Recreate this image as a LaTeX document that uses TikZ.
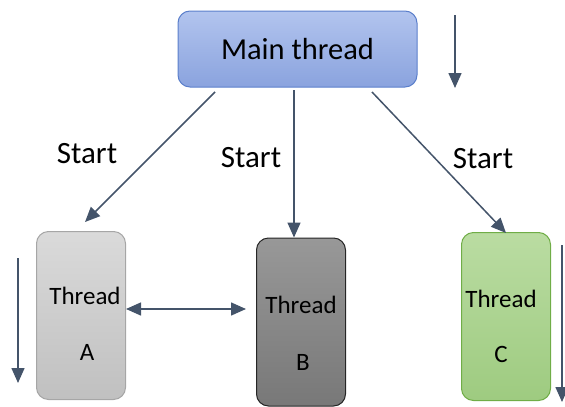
\documentclass[tikz,border=0pt]{standalone}
\usepackage{fontspec}
\setmainfont{Carlito}
\usetikzlibrary{arrows.meta}

\definecolor{arrowcol}{HTML}{44546A}

\tikzset{
  arr/.style={draw=arrowcol, line width=1.5pt, -{Triangle[width=13pt,length=15pt]}},
  dblarr/.style={draw=arrowcol, line width=1.5pt, {Triangle[width=13pt,length=15pt]}-{Triangle[width=13pt,length=15pt]}},
  threadbox/.style={rounded corners=12pt, minimum width=89pt, minimum height=168pt, line width=1pt, inner sep=0pt},
  startlbl/.style={font=\fontsize{31}{35}\selectfont},
  threadlbl/.style={font=\fontsize{25}{29}\selectfont}
}

\begin{document}
\begin{tikzpicture}[x=1pt,y=-1pt]
    \useasboundingbox (0,0) rectangle (565,407);

    % main thread
    \node[rounded corners=12pt, minimum width=239pt, minimum height=76pt, line width=1pt,
          draw={rgb,255:red,91;green,127;blue,203}, top color={rgb,255:red,178;green,196;blue,238},
          bottom color={rgb,255:red,138;green,163;blue,222}, font=\fontsize{30.5}{34}\selectfont]
          (main) at (297.5,49) {Main thread};

    % threads
    \node[threadbox, draw={rgb,255:red,166;green,166;blue,166}, top color={rgb,255:red,218;green,218;blue,218},
          bottom color={rgb,255:red,192;green,192;blue,192}] (thA) at (81,315.5) {};
    \node[threadbox, draw={rgb,255:red,38;green,38;blue,38}, top color={rgb,255:red,152;green,152;blue,152},
          bottom color={rgb,255:red,120;green,120;blue,120}] (thB) at (301,322) {};
    \node[threadbox, draw={rgb,255:red,112;green,173;blue,71}, top color={rgb,255:red,186;green,220;blue,162},
          bottom color={rgb,255:red,158;green,203;blue,128}] (thC) at (506,316.5) {};

    \node[threadlbl] (thAa) at (85,296) {Thread};
    \node[threadlbl] (thAb) at (87,352) {A};
    \node[threadlbl] (thBa) at (301,305) {Thread};
    \node[threadlbl] (thBb) at (303,362) {B};
    \node[threadlbl] (thCa) at (501,299) {Thread};
    \node[threadlbl] (thCb) at (501,354) {C};

    % start arrows
    \coordinate (sA) at (215,92);
    \coordinate (sB) at (294,90);
    \coordinate (sC) at (372,92);
    \coordinate (eA) at (85,222);
    \coordinate (eC) at (506,233);
    \draw[arr] (sA) -- (eA);
    \draw[arr] (sB) -- (sB |- thB.north);
    \draw[arr] (sC) -- (eC);

    \node[startlbl] (stA) at (87,154) {Start};
    \node[startlbl] (stB) at (251,158) {Start};
    \node[startlbl] (stC) at (483,159) {Start};

    \draw[dblarr] (thA.east |- 0,309) -- ([xshift=-10pt]thB.west |- 0,309);

    % time arrows
    \coordinate (tM1) at (455,15);
    \coordinate (tM2) at (455,88);
    \coordinate (tA1) at (18,258);
    \coordinate (tA2) at (18,383);
    \coordinate (tC1) at (562,245);
    \coordinate (tC2) at (562,402);
    \draw[arr] (tM1) -- (tM2);
    \draw[arr] (tA1) -- (tA2);
    \draw[arr] (tC1) -- (tC2);
\end{tikzpicture}
\end{document}
